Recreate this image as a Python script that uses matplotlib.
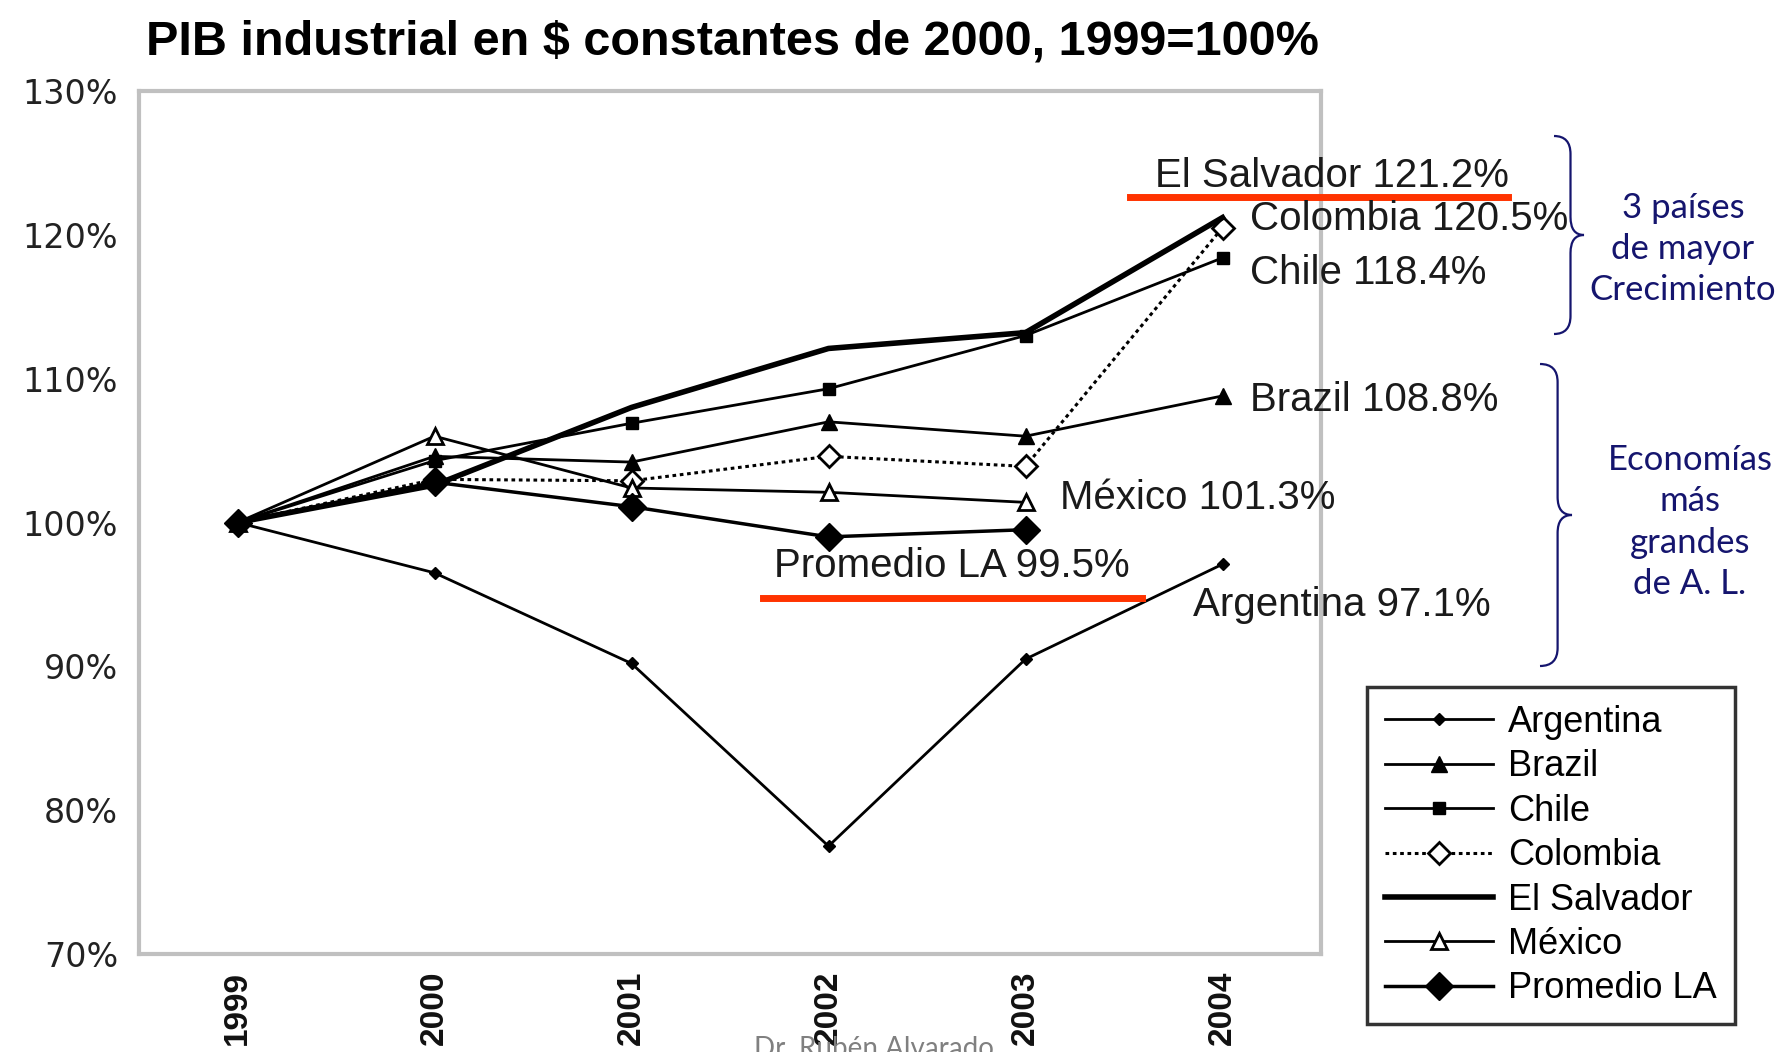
import matplotlib
matplotlib.use('Agg')
import matplotlib.pyplot as plt
from matplotlib.path import Path
from matplotlib.patches import PathPatch
from matplotlib.lines import Line2D

W, H = 1781, 1052

years = [1999, 2000, 2001, 2002, 2003, 2004]
years_short = [1999, 2000, 2001, 2002, 2003]

argentina = [100, 96.5, 90.2, 77.5, 90.5, 97.1]
brazil = [100, 104.6, 104.2, 107.0, 106.0, 108.8]
chile = [100, 104.3, 106.9, 109.3, 113.0, 118.4]
colombia = [100, 103.0, 102.9, 104.6, 103.9, 120.5]
el_salvador = [100, 102.6, 108.0, 112.1, 113.2, 121.2]
mexico = [100, 106.0, 102.4, 102.1, 101.4]
promedio = [100, 102.8, 101.1, 99.0, 99.5]

y_ticks = [70, 80, 90, 100, 110, 120, 130]
y_labels = ['70%', '80%', '90%', '100%', '110%', '120%', '130%']

end_labels = ['El Salvador 121.2%', 'Colombia 120.5%', 'Chile 118.4%', 'Brazil 108.8%',
              'México 101.3%', 'Promedio LA 99.5%', 'Argentina 97.1%']

SANS = ['Liberation Sans', 'DejaVu Sans']


def px(x, y):
    # pixel (from top-left) to figure fraction
    return x / W, 1 - y / H


def brace(fig, x0, y_top, y_bot, w, color):
    mid = (y_top + y_bot) / 2
    r = 18
    xm = x0 + w * 0.55
    pts = [(x0, y_top), (xm, y_top), (xm, y_top + r),
           (xm, mid - r), (xm, mid), (x0 + w, mid),
           (xm, mid), (xm, mid + r),
           (xm, y_bot - r), (xm, y_bot), (x0, y_bot)]
    codes = [Path.MOVETO, Path.CURVE3, Path.CURVE3,
             Path.LINETO, Path.CURVE3, Path.CURVE3,
             Path.CURVE3, Path.CURVE3,
             Path.LINETO, Path.CURVE3, Path.CURVE3]
    verts = [px(a, b) for a, b in pts]
    fig.patches.append(PathPatch(Path(verts, codes), fill=False, edgecolor=color,
                                 linewidth=1.6, transform=fig.transFigure))


fig = plt.figure(figsize=(W / 100, H / 100), dpi=100)
fig.patch.set_facecolor('white')
ax = fig.add_axes([139 / W, 1 - 954 / H, (1321 - 139) / W, (954 - 91) / H])

ax.plot(years, argentina, color='black', lw=2, marker='D', ms=6, label='Argentina')
ax.plot(years, brazil, color='black', lw=2, marker='^', ms=11, label='Brazil')
ax.plot(years, chile, color='black', lw=2, marker='s', ms=9, label='Chile')
ax.plot(years, colombia, color='black', lw=2.2, ls=(0, (1.2, 1.2)), marker='D', ms=11,
        mfc='white', mew=2, label='Colombia')
ax.plot(years, el_salvador, color='black', lw=4, label='El Salvador')
ax.plot(years_short, mexico, color='black', lw=2, marker='^', ms=12, mfc='white', mew=2,
        label='México')
ax.plot(years_short, promedio, color='black', lw=2.5, marker='D', ms=14, label='Promedio LA')

ax.set_xlim(1998.5, 2004.5)
ax.set_ylim(70, 130)
ax.set_xticks(years)
ax.set_xticklabels([str(y) for y in years], rotation=90, fontsize=24,
                   family=SANS, fontweight='bold', color='#111111')
ax.set_yticks(y_ticks)
ax.set_yticklabels(y_labels, fontsize=24, color='#222222')
ax.tick_params(axis='x', length=0, pad=12)
ax.tick_params(axis='y', length=0, pad=15)
for s in ax.spines.values():
    s.set_color('#c0c0c0')
    s.set_linewidth(3)

# title
fig.text(*px(146, 42), 'PIB industrial en $ constantes de 2000, 1999=100%', fontsize=35,
         family=SANS, fontweight='heavy', va='center', ha='left')

# end labels
label_pos = [(1155, 176), (1250, 219), (1250, 273), (1250, 400),
             (1060, 498), (774, 566), (1193, 605)]
for txt, (lx, ly) in zip(end_labels, label_pos):
    fig.text(*px(lx, ly), txt, fontsize=29, family=SANS, va='center', ha='left',
             color='#1a1a1a')

# red underlines
fig.lines.append(Line2D([1130 / W, 1508 / W], [1 - 197 / H, 1 - 197 / H], color='#ff3300',
                        lw=5, transform=fig.transFigure))
fig.lines.append(Line2D([763 / W, 1142 / W], [1 - 598 / H, 1 - 598 / H], color='#ff3300',
                        lw=5, transform=fig.transFigure))

# braces and notes
navy = '#15156e'
brace(fig, 1554, 136, 334, 30, navy)
brace(fig, 1540, 364, 666, 32, navy)
fig.text(*px(1683, 249), '3 países\nde mayor\nCrecimiento', fontsize=25, color=navy,
         family='Lato', ha='center', va='center', linespacing=1.35)
fig.text(*px(1690, 522), 'Economías\nmás\ngrandes\nde A. L.', fontsize=25, color=navy,
         family='Lato', ha='center', va='center', linespacing=1.35)

# legend
leg = fig.legend(loc='upper left', bbox_to_anchor=px(1367, 687),
                 prop={'family': SANS, 'size': 26}, frameon=True, fancybox=False,
                 handlelength=3.0, labelspacing=0.26, borderpad=0.5, handletextpad=0.4,
                 borderaxespad=0)
leg.get_frame().set_edgecolor('black')
leg.get_frame().set_linewidth(2.5)

# watermark
fig.text(*px(874, 1036), 'Dr. Rubén Alvarado', fontsize=20, color='#808080',
         family='Lato', ha='center', va='top')

fig.savefig('out.png', dpi=100)
